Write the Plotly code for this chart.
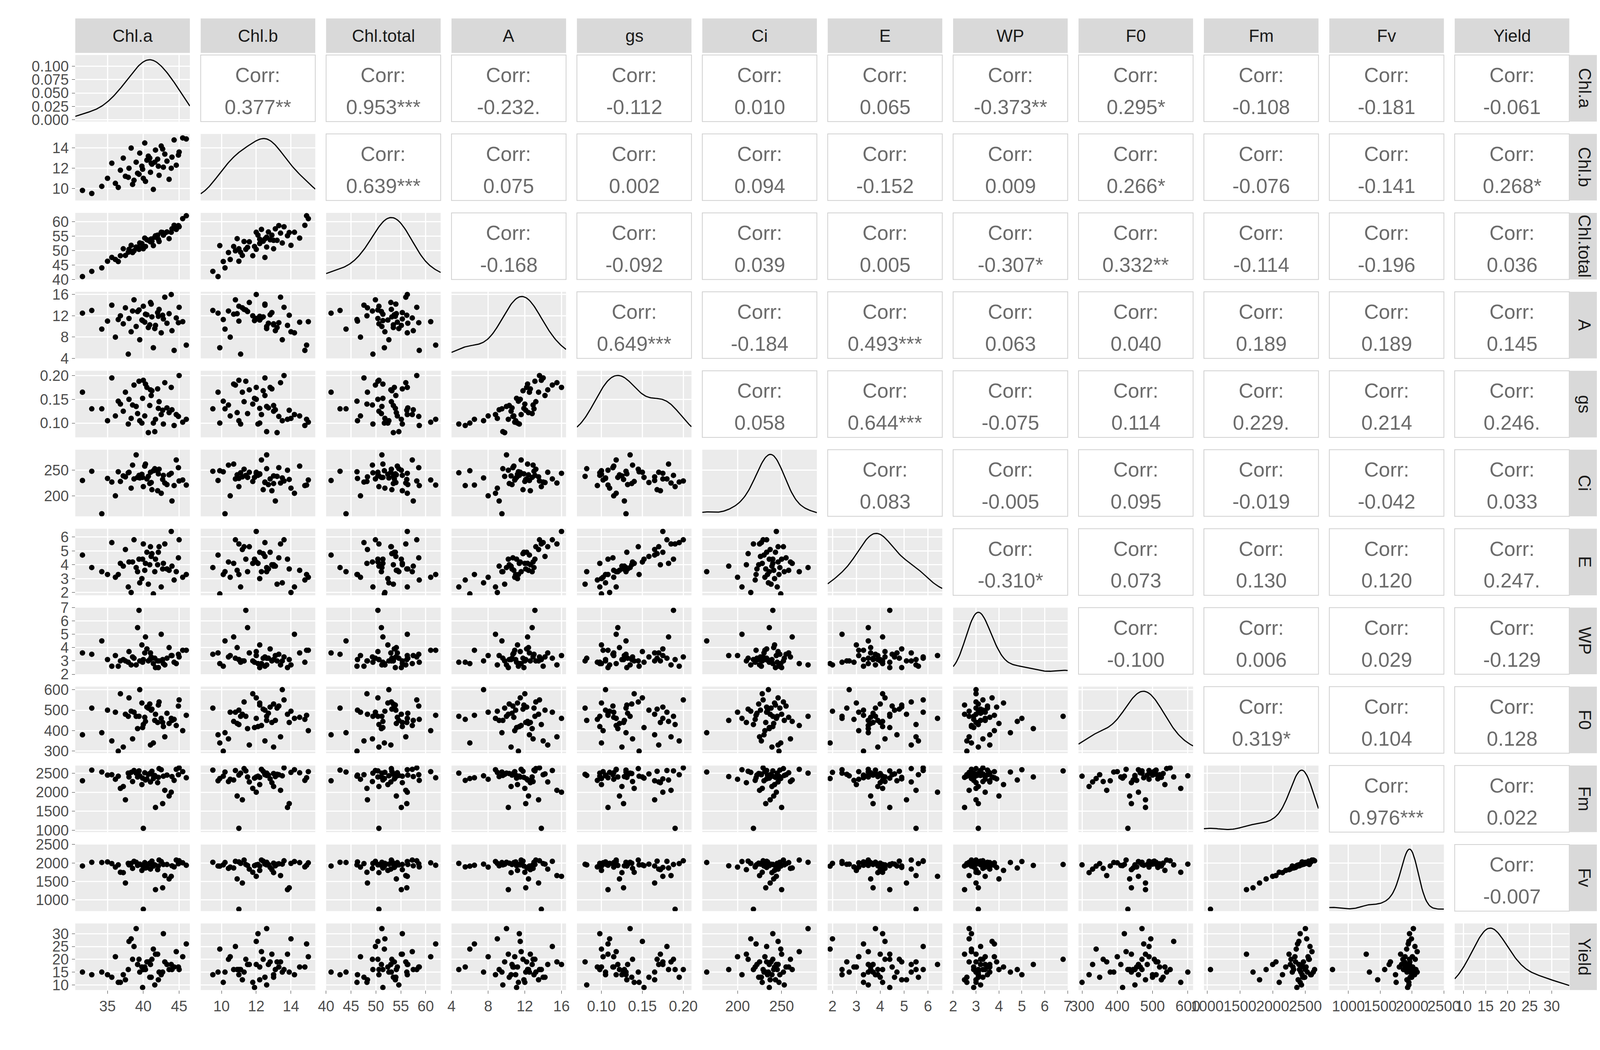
import numpy as np
import plotly.graph_objects as go

names = ["Chl.a", "Chl.b", "Chl.total", "A", "gs", "Ci", "E", "WP", "F0", "Fm", "Fv", "Yield"]

chl_a = [31.5, 32.8, 34.2, 35.0, 35.6, 36.1, 36.8, 37.2, 37.5, 38.0, 38.3, 38.7, 39.0, 39.2, 39.5, 39.8, 40.0,
         40.2, 40.5, 40.7, 41.0, 41.2, 41.4, 41.7, 42.0, 42.2, 42.5, 42.8, 43.0, 43.3, 43.6, 44.0, 44.3, 44.6,
         45.0, 45.5, 46.0, 38.5, 39.9, 41.1, 40.9, 37.9, 42.7, 43.9, 36.5, 41.6, 39.4, 44.9, 40.3, 42.1]
chl_b = [9.8, 9.5, 10.2, 11.0, 12.5, 10.5, 11.8, 13.0, 11.2, 12.0, 14.0, 10.8, 12.6, 11.5, 13.5, 12.2, 11.0,
         14.5, 12.8, 13.2, 11.6, 12.4, 9.9, 13.8, 12.9, 11.3, 14.2, 12.1, 13.4, 12.7, 10.9, 13.1, 14.8, 12.3,
         13.6, 15.0, 14.9, 10.4, 11.9, 12.5, 13.0, 11.1, 13.9, 12.0, 10.1, 12.6, 11.4, 13.3, 10.7, 12.2]
chl_total = [41.0, 42.8, 44.0, 46.3, 47.6, 46.9, 48.2, 50.6, 48.3, 50.4, 51.8, 49.9, 51.2, 51.1, 52.6, 52.4,
             50.6, 54.3, 53.7, 53.5, 53.0, 53.2, 51.7, 55.1, 55.3, 53.1, 56.3, 55.3, 56.0, 56.4, 54.1, 57.5,
             58.7, 57.3, 58.2, 61.0, 62.0, 49.3, 51.4, 54.0, 53.5, 49.4, 56.2, 56.3, 46.2, 54.6, 50.4, 58.6,
             51.4, 53.9]
a_rate = [12.5, 13.0, 9.5, 11.0, 14.0, 8.0, 12.0, 10.5, 13.5, 11.5, 9.0, 15.0, 10.0, 12.8, 7.5, 11.2, 13.8,
          10.8, 12.2, 9.8, 14.5, 11.8, 6.0, 10.2, 12.6, 13.2, 8.8, 11.4, 15.5, 10.6, 12.4, 9.2, 5.5, 11.6,
          13.6, 10.9, 6.5, 12.9, 11.1, 14.2, 10.3, 4.8, 12.1, 16.0, 11.3, 9.6, 13.1, 10.7, 12.3, 11.9]
gs = [0.165, 0.130, 0.130, 0.105, 0.195, 0.115, 0.140, 0.125, 0.165, 0.150, 0.110, 0.180, 0.135, 0.120,
      0.105, 0.100, 0.190, 0.115, 0.175, 0.080, 0.170, 0.168, 0.100, 0.108, 0.172, 0.145, 0.118, 0.098,
      0.185, 0.132, 0.122, 0.128, 0.095, 0.118, 0.200, 0.102, 0.108, 0.138, 0.152, 0.158, 0.137, 0.098,
      0.127, 0.175, 0.146, 0.082, 0.188, 0.114, 0.182, 0.131]
ci = [230, 248, 165, 234, 227, 200, 228, 239, 237, 246, 215, 233, 280, 236, 235, 242, 218, 258, 233, 238,
      246, 212, 249, 250, 210, 252, 205, 240, 225, 222, 241, 190, 220, 270, 229, 231, 221, 260, 236, 226,
      224, 245, 232, 244, 247, 253, 240, 255, 262, 243]
e_rate = [4.7, 3.8, 3.5, 3.3, 5.6, 3.1, 4.1, 3.9, 5.1, 4.2, 2.0, 5.8, 3.8, 3.5, 2.7, 3.0, 5.5, 3.6, 4.9, 2.6,
          5.3, 4.8, 1.9, 4.4, 4.0, 5.3, 2.4, 4.1, 5.5, 3.7, 3.6, 3.9, 2.9, 3.5, 5.8, 3.1, 3.3, 4.2, 4.4, 4.6,
          4.0, 2.4, 3.7, 6.4, 3.3, 3.5, 4.4, 4.5, 4.1, 4.9]
wp = [3.6, 3.5, 4.5, 3.1, 2.6, 3.4, 3.0, 3.1, 3.0, 3.7, 2.7, 3.2, 2.7, 5.5, 3.0, 4.2, 3.1, 3.6, 3.9, 3.0,
      3.6, 3.2, 2.8, 2.5, 3.0, 3.0, 5.0, 2.8, 2.7, 3.2, 4.0, 3.4, 2.9, 2.8, 3.3, 3.8, 3.8, 3.3, 2.9, 3.3,
      3.1, 2.9, 3.1, 3.4, 2.6, 3.2, 6.8, 3.5, 4.8, 2.5]
f0 = [380, 510, 390, 500, 350, 490, 580, 320, 480, 560, 495, 490, 470, 410, 600, 535, 430, 465, 515, 510,
      330, 505, 340, 480, 440, 540, 460, 420, 370, 485, 435, 450, 455, 425, 550, 400, 475, 360, 415, 500,
      530, 470, 440, 460, 300, 450, 470, 520, 445, 525]
fm = [2300, 2580, 2530, 2450, 2460, 2340, 2100, 2150, 1800, 2400, 2520, 2570, 2500, 2400, 2430, 2200, 1050,
      2510, 2350, 2470, 2270, 2550, 2360, 1600, 2250, 2620, 2590, 2420, 2050, 2450, 1900, 2410, 2310, 2600,
      2640, 2540, 2380, 2280, 2370, 2480, 2490, 2500, 1700, 2000, 2420, 2440, 2560, 2460, 2320, 2390]
fv = [1920, 2020, 2015, 2030, 1985, 1890, 1750, 1740, 1460, 1950, 1990, 2045, 2020, 1935, 1970, 1800, 750,
      2010, 1880, 1965, 1835, 2050, 1915, 1280, 1820, 2080, 2040, 1960, 1660, 1960, 1570, 1925, 1895, 2080,
      2060, 2005, 1940, 1855, 1930, 1970, 1995, 1990, 1330, 1640, 1950, 1950, 1960, 1980, 1865, 1920]
yield_ = [15, 14, 15, 14, 13, 21, 11, 14, 12, 27, 28, 25, 32, 18, 15, 17, 16, 17, 19, 19, 18, 20, 24, 22, 22,
          15, 14, 30, 19, 18, 16, 16, 17, 23, 16, 21, 26, 20, 9, 13, 13, 16, 15, 18, 11, 10, 20, 17, 16, 12]

columns = [chl_a, chl_b, chl_total, a_rate, gs, ci, e_rate, wp, f0, fm, fv, yield_]

# correlation labels, upper triangle, row by row
corr_text = [
    ["0.377**", "0.953***", "-0.232.", "-0.112", "0.010", "0.065", "-0.373**", "0.295*", "-0.108", "-0.181", "-0.061"],
    ["0.639***", "0.075", "0.002", "0.094", "-0.152", "0.009", "0.266*", "-0.076", "-0.141", "0.268*"],
    ["-0.168", "-0.092", "0.039", "0.005", "-0.307*", "0.332**", "-0.114", "-0.196", "0.036"],
    ["0.649***", "-0.184", "0.493***", "0.063", "0.040", "0.189", "0.189", "0.145"],
    ["0.058", "0.644***", "-0.075", "0.114", "0.229.", "0.214", "0.246."],
    ["0.083", "-0.005", "0.095", "-0.019", "-0.042", "0.033"],
    ["-0.310*", "0.073", "0.130", "0.120", "0.247."],
    ["-0.100", "0.006", "0.029", "-0.129"],
    ["0.319*", "0.104", "0.128"],
    ["0.976***", "0.022"],
    ["-0.007"],
    [],
]

ranges = [[30.5, 46.5], [8.8, 15.4], [40, 63], [4, 16.5], [0.07, 0.21], [160, 290], [1.8, 6.6],
          [2, 7], [290, 615], [950, 2700], [700, 2500], [8, 34]]
dticks = [5, 2, 5, 4, 0.05, 50, 1, 1, 100, 500, 500, 5]
tick0s = [30, 10, 40, 4, 0.1, 200, 2, 2, 300, 1000, 1000, 10]

n = len(names)
X0, PW, PX = 0.037, 0.072, 0.0788
Y0, PH, PY = 0.957, 0.0656, 0.0778


def kde(vals, lo, hi):
    v = np.asarray(vals, float)
    bw = 1.06 * v.std() * len(v) ** -0.2
    xs = np.linspace(lo, hi, 100)
    ys = np.exp(-0.5 * ((xs[:, None] - v[None, :]) / bw) ** 2).sum(1) / (len(v) * bw * np.sqrt(2 * np.pi))
    return xs, ys


def ax(k):
    return "" if k == 0 else str(k + 1)


fig = go.Figure()
layout = {}
shapes, annotations = [], []
tfont = dict(size=38, color="#4D4D4D")

# one x axis per column, one y axis per row
for j in range(n):
    left = X0 + j * PX
    xa = dict(domain=[left, left + PW], anchor="y" + ax(n - 1), range=ranges[j], tick0=tick0s[j],
              dtick=dticks[j], showgrid=True, gridcolor="white", gridwidth=3, zeroline=False, tickangle=0,
              ticks="outside", ticklen=8, tickcolor="#333333", tickfont=tfont)
    if j == 4:
        xa["tickformat"] = ".2f"
    layout["xaxis" + ax(j)] = xa

d0x, d0y = kde(chl_a, *ranges[0])
for i in range(n):
    top = Y0 - i * PY
    ya = dict(domain=[top - PH, top], anchor="x", showgrid=True, gridcolor="white", gridwidth=3,
              zeroline=False, ticks="outside", ticklen=8, tickcolor="#333333", tickfont=tfont)
    if i == 0:
        ya.update(range=[-0.03 * d0y.max(), d0y.max() * 1.08], tick0=0, dtick=0.025, tickformat=".3f")
    else:
        ya.update(range=ranges[i], tick0=tick0s[i], dtick=dticks[i])
    if i == 4:
        ya["tickformat"] = ".2f"
    layout["yaxis" + ax(i)] = ya

for i in range(n):
    top = Y0 - i * PY
    bot = top - PH
    for j in range(n):
        left = X0 + j * PX
        right = left + PW
        if j > i:
            shapes.append(dict(type="rect", xref="paper", yref="paper", x0=left, x1=right, y0=bot, y1=top,
                               line=dict(color="#D0D0D0", width=2), fillcolor="white"))
            txt = corr_text[i][j - i - 1]
            for yy, t in [(top - PH * 0.3, "Corr:"), (bot + PH * 0.22, txt)]:
                annotations.append(dict(xref="paper", yref="paper", x=(left + right) / 2, y=yy, text=t,
                                        xanchor="center", yanchor="middle", showarrow=False,
                                        font=dict(size=52, color="#6B6B6B")))
        elif i == j:
            xs, ys = kde(columns[j], *ranges[j])
            if i > 0:
                # density drawn on the row's own scale
                lo, hi = ranges[i]
                ys = lo + (hi - lo) * (0.03 + 0.9 * ys / ys.max())
            fig.add_trace(go.Scatter(x=xs, y=ys, mode="lines", line=dict(color="black", width=3),
                                     xaxis="x" + ax(j), yaxis="y" + ax(i), showlegend=False))
        else:
            fig.add_trace(go.Scatter(x=columns[j], y=columns[i], mode="markers",
                                     marker=dict(color="black", size=14),
                                     xaxis="x" + ax(j), yaxis="y" + ax(i), showlegend=False))

# strips
for j, name in enumerate(names):
    left = X0 + j * PX
    shapes.append(dict(type="rect", xref="paper", yref="paper", x0=left, x1=left + PW, y0=0.959, y1=0.993,
                       line=dict(width=0), fillcolor="#D9D9D9"))
    annotations.append(dict(xref="paper", yref="paper", x=left + PW / 2, y=0.976, text=name, showarrow=False,
                            xanchor="center", yanchor="middle", font=dict(size=44, color="#1A1A1A")))
for i, name in enumerate(names):
    top = Y0 - i * PY
    shapes.append(dict(type="rect", xref="paper", yref="paper", x0=0.976, x1=0.995, y0=top - PH, y1=top,
                       line=dict(width=0), fillcolor="#D9D9D9"))
    annotations.append(dict(xref="paper", yref="paper", x=0.9855, y=top - PH / 2, text=name, showarrow=False,
                            xanchor="center", yanchor="middle", textangle=90,
                            font=dict(size=44, color="#1A1A1A")))

fig.update_layout(width=4150, height=2640, margin=dict(l=0, r=0, t=0, b=0), plot_bgcolor="#EBEBEB",
                  paper_bgcolor="white", font=dict(family="Liberation Sans"), hovermode=False,
                  shapes=shapes, annotations=annotations, **layout)
fig.write_html("out.html")
